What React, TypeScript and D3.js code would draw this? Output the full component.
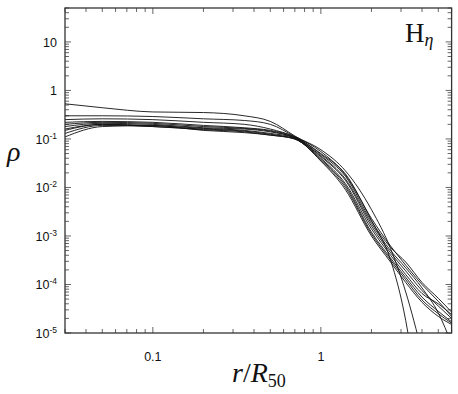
import * as d3 from 'd3';

// radial grid shared by every profile (r / R50)
const R_VALUES = [0.03, 0.05, 0.1, 0.2, 0.35, 0.5, 0.7, 1, 1.4, 2, 2.6, 3.2, 4, 5, 6];

// density profiles (null = curve already left the box)
const RHO_A = [0.53, 0.44, 0.36, 0.35, 0.3, 0.23, 0.115, 0.055, 0.018, 0.0021, 0.00032, 0.000018, 0.0000001, null, null];
const RHO_B = [0.3, 0.3, 0.29, 0.26, 0.24, 0.2, 0.112, 0.06, 0.022, 0.0035, 0.00055, 0.00007, 0.000004, null, null];
const RHO_C = [0.25, 0.26, 0.25, 0.22, 0.2, 0.16, 0.11, 0.05, 0.019, 0.0023, 0.00062, 0.00025, 0.0001, 0.000045, 0.000022];
const RHO_D = [0.22, 0.23, 0.22, 0.19, 0.17, 0.15, 0.11, 0.048, 0.017, 0.002, 0.00058, 0.00029, 0.00011, 0.000052, 0.000027];
const RHO_E = [0.2, 0.22, 0.21, 0.18, 0.165, 0.145, 0.105, 0.045, 0.015, 0.0018, 0.0005, 0.00022, 0.000085, 0.000026, 0.000006];
const RHO_F = [0.18, 0.21, 0.2, 0.17, 0.16, 0.14, 0.105, 0.043, 0.014, 0.0016, 0.00045, 0.00019, 0.000075, 0.000036, 0.00002];
const RHO_G = [0.16, 0.2, 0.19, 0.165, 0.15, 0.13, 0.105, 0.04, 0.012, 0.0014, 0.0004, 0.00016, 0.000065, 0.00004, 0.000024];
const RHO_H = [0.15, 0.2, 0.18, 0.16, 0.145, 0.125, 0.1, 0.038, 0.011, 0.0012, 0.00035, 0.00014, 0.000055, 0.000028, 0.000017];
const RHO_I = [0.13, 0.19, 0.18, 0.155, 0.14, 0.12, 0.1, 0.036, 0.01, 0.0011, 0.00032, 0.000125, 0.000048, 0.000025, 0.000016];
const RHO_J = [0.11, 0.18, 0.19, 0.15, 0.135, 0.12, 0.1, 0.035, 0.009, 0.001, 0.00029, 0.00011, 0.000043, 0.000022, 0.000015];

const PROFILES = [RHO_A, RHO_B, RHO_C, RHO_D, RHO_E, RHO_F, RHO_G, RHO_H, RHO_I, RHO_J];

const X_TICK_LABELS = [0.1, 1];
const Y_TICK_EXPONENTS = [1, 0, -1, -2, -3, -4, -5];

const W = 458;
const H = 394;

export default function App() {
  const x = d3.scaleLog().domain([0.03, 6]).range([65, 451.6]);
  const y = d3.scaleLog().domain([1e-5, 50]).range([333, 8]);
  const [x0, x1] = x.range();
  const [y0, y1] = y.range();

  const line = d3
    .line<[number, number | null]>()
    .defined(d => d[1] != null)
    .x(d => x(d[0]))
    .y(d => y(d[1] as number))
    .curve(d3.curveMonotoneX);

  // log ticks: 1..9 per decade, majors at the powers of ten
  const logTicks = (lo: number, hi: number, dmin: number, dmax: number) => {
    const out: { v: number; major: boolean }[] = [];
    for (let e = dmin; e <= dmax; e++) {
      for (let m = 1; m <= 9; m++) {
        const v = m * Math.pow(10, e);
        if (v >= lo * 0.9999 && v <= hi * 1.0001) out.push({ v, major: m === 1 });
      }
    }
    return out;
  };
  const xTicks = logTicks(0.03, 6, -2, 0);
  const yTicks = logTicks(1e-5, 50, -5, 1);

  const tickColor = '#666';
  const majorLen = 6;
  const minorLen = 4;

  return (
    <div style={{ position: 'absolute', left: 0, top: 0 }}>
      <svg width={W} height={H} style={{ display: 'block', background: '#fff' }}>
        <defs>
          <clipPath id="plot-clip">
            <rect x={x0} y={y1} width={x1 - x0} height={y0 - y1} />
          </clipPath>
        </defs>

        {/* ticks on all four sides, pointing inward */}
        <g stroke={tickColor} strokeWidth={1}>
          {xTicks.map((t, i) => {
            const px = x(t.v);
            const len = t.major ? majorLen : minorLen;
            return (
              <g key={'xt' + i}>
                <line x1={px} x2={px} y1={y0} y2={y0 - len} />
                <line x1={px} x2={px} y1={y1} y2={y1 + len} />
              </g>
            );
          })}
          {yTicks.map((t, i) => {
            const py = y(t.v);
            const len = t.major ? majorLen : minorLen;
            return (
              <g key={'yt' + i}>
                <line x1={x0} x2={x0 + len} y1={py} y2={py} />
                <line x1={x1} x2={x1 - len} y1={py} y2={py} />
              </g>
            );
          })}
        </g>

        <g clipPath="url(#plot-clip)" fill="none" stroke="#111" strokeWidth={0.9}>
          {PROFILES.map((p, i) => (
            <path key={i} d={line(R_VALUES.map((r, j) => [r, p[j]] as [number, number | null])) || ''} />
          ))}
        </g>

        <rect x={x0} y={y1} width={x1 - x0} height={y0 - y1} fill="none" stroke="#333" strokeWidth={1.3} />

        <g fontFamily="'Liberation Sans', Arial, sans-serif" fontSize={12.5} fill="#111">
          {X_TICK_LABELS.map(v => (
            <text key={'xl' + v} x={x(v)} y={361} textAnchor="middle">
              {String(v)}
            </text>
          ))}
          {Y_TICK_EXPONENTS.map(e => (
            <text key={'yl' + e} x={57} y={y(Math.pow(10, e)) + 5} textAnchor="end">
              {e === 0 ? '1' : '10'}
              {e < 0 && (
                <tspan dy={-5} fontSize={8.5}>
                  {String(e)}
                </tspan>
              )}
            </text>
          ))}
        </g>

        <text x={7} y={161} fontFamily="'Liberation Serif', serif" fontStyle="italic" fontSize={28} fill="#111">
          ρ
        </text>

        <text x={232} y={382} fontFamily="'Liberation Serif', serif" fontSize={28} fill="#111">
          <tspan fontStyle="italic">r</tspan>
          <tspan>/</tspan>
          <tspan fontStyle="italic">R</tspan>
          <tspan fontSize={18} dy={5}>50</tspan>
        </text>

        <text x={405} y={42} fontFamily="'Liberation Serif', serif" fontSize={27} fill="#111">
          H
          <tspan fontSize={18} fontStyle="italic" dy={4}>η</tspan>
        </text>
      </svg>
    </div>
  );
}
